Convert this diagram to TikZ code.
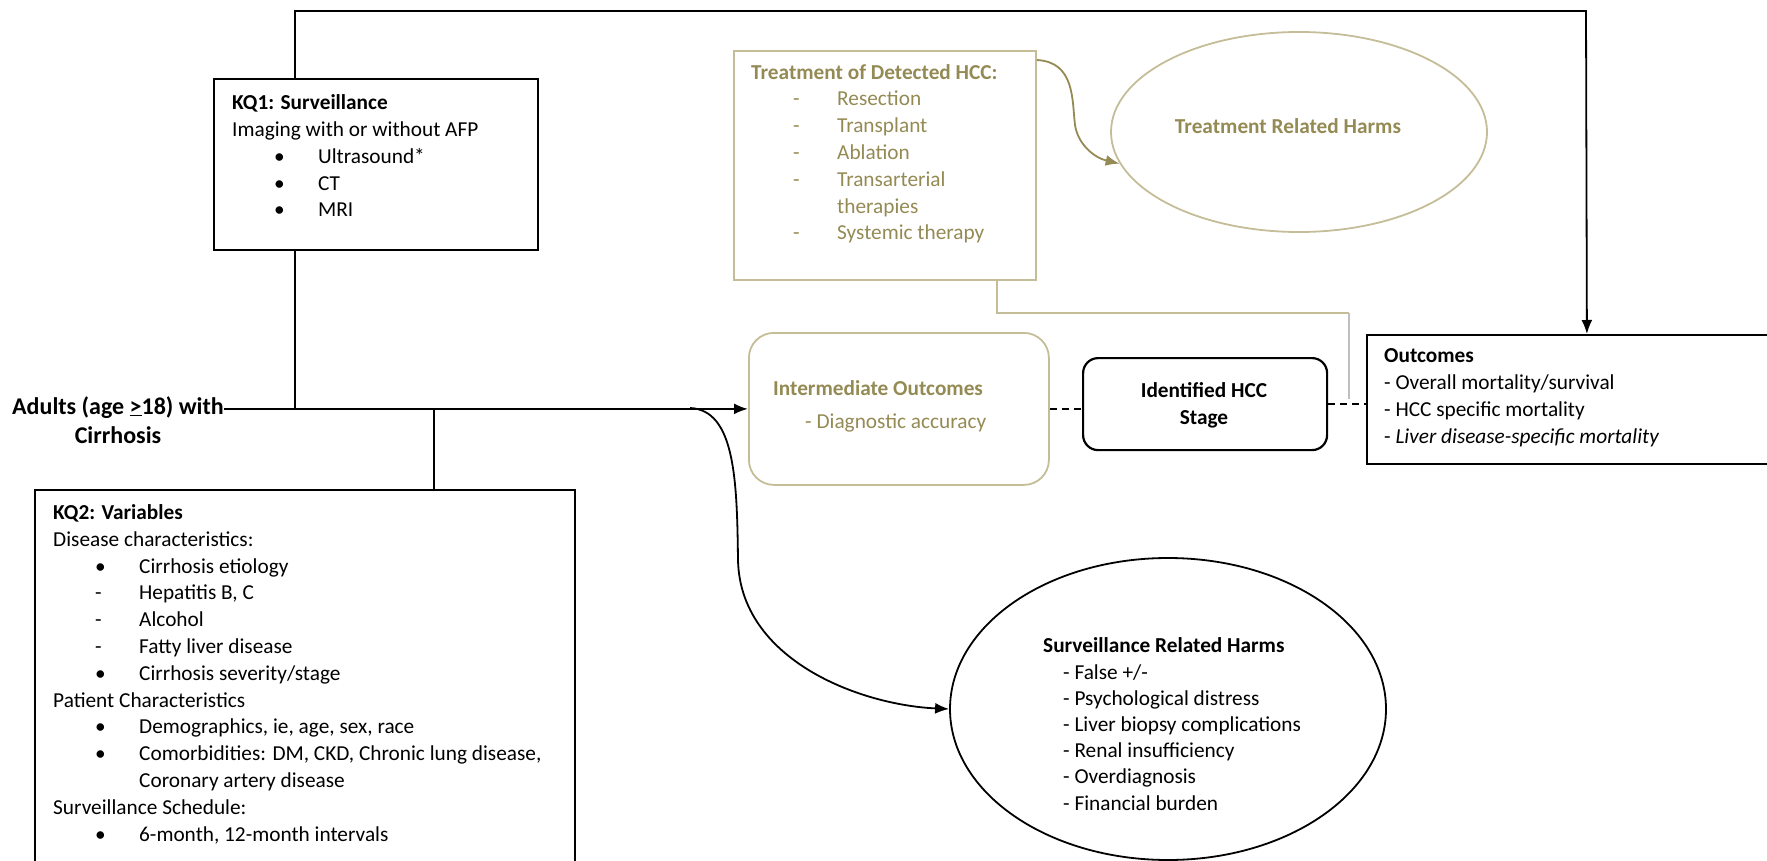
\documentclass[tikz,border=0pt]{standalone}
\usepackage{fontspec}
\setmainfont{Carlito}
\usetikzlibrary{shapes.geometric,arrows.meta,positioning}
\definecolor{tantext}{RGB}{148,138,84}
\definecolor{tanline}{RGB}{196,189,151}
\definecolor{greyline}{RGB}{191,191,191}
\tikzset{every node/.style={align=left, inner sep=0pt, font=\fontsize{21.3}{26.8}\selectfont}, >={Latex[length=14pt,width=11pt]}}
\newcommand{\listline}[2]{\hspace*{42pt}\makebox[44pt][l]{#1}#2}

\begin{document}
\begin{tikzpicture}[x=1pt, y=-1pt,
    box/.style={draw, line width=1.8pt, anchor=north west},
    tanbox/.style={draw=tanline, line width=1.8pt, anchor=north west},
    oval/.style={ellipse, draw, line width=1.8pt},
    dashline/.style={line width=1.8pt, dash pattern=on 7pt off 5pt}]
\useasboundingbox (0,0) rectangle (1767,861);
\clip (0,0) rectangle (1767,861);

% boxes and ovals
\node[box, minimum width=324pt, minimum height=171pt] (kqone) at (213,78) {};
\node[box, minimum width=540pt, minimum height=420pt] (kqtwo) at (34,489) {};
\node[tanbox, minimum width=302pt, minimum height=229pt] (treat) at (733,50) {};
\node[tanbox, rounded corners=25pt, minimum width=300pt, minimum height=152pt] (inter) at (748,332) {};
\node[box, rounded corners=15pt, line width=2.2pt, minimum width=244pt, minimum height=92pt] (idhcc) at (1082,357) {};
\node[box, minimum width=440pt, minimum height=129pt] (outcomes) at (1366,334) {};
\node[oval, draw=tanline, minimum width=376pt, minimum height=200pt] (trharms) at (1299,132) {};
\node[oval, minimum width=436pt, minimum height=302pt] (survharms) at (1168,709) {};

% texts (anchored at the baseline of their last line)
\node[anchor=base, align=center, font=\fontsize{24}{29}\selectfont\bfseries] (adults) at (118,443) {Adults (age \underline{>}18) with\\Cirrhosis};
\node[anchor=base west] (kqonetext) at (232,217) {\textbf{KQ1: Surveillance}\\Imaging with or without AFP\\
    \listline{\textbullet}{Ultrasound*}\\\listline{\textbullet}{CT}\\\listline{\textbullet}{MRI}};
\node[anchor=base west] (kqtwotext) at (53,841) {\textbf{KQ2: Variables}\\Disease characteristics:\\
    \listline{\textbullet}{Cirrhosis etiology}\\\listline{-}{Hepatitis B, C}\\\listline{-}{Alcohol}\\
    \listline{-}{Fatty liver disease}\\\listline{\textbullet}{Cirrhosis severity/stage}\\Patient Characteristics\\
    \listline{\textbullet}{Demographics, ie, age, sex, race}\\
    \listline{\textbullet}{Comorbidities: DM, CKD, Chronic lung disease,}\\\listline{}{Coronary artery disease}\\
    Surveillance Schedule:\\\listline{\textbullet}{6-month, 12-month intervals}};
\node[anchor=base west, text=tantext] (treattext) at (751,240) {\textbf{Treatment of Detected HCC:}\\
    \listline{-}{Resection}\\\listline{-}{Transplant}\\\listline{-}{Ablation}\\\listline{-}{Transarterial}\\
    \listline{}{therapies}\\\listline{-}{Systemic therapy}};
\node[anchor=base, text=tantext] (trtext) at (1288,134) {\textbf{Treatment Related Harms}};
\node[anchor=base west, text=tantext] (intertext) at (773,428) {\textbf{Intermediate Outcomes}\\[6pt]\hspace*{32pt}- Diagnostic accuracy};
\node[anchor=base, align=center] (idtext) at (1204,424) {\textbf{Identified HCC}\\\textbf{Stage}};
\node[anchor=base west] (outtext) at (1384,443) {\textbf{Outcomes}\\- Overall mortality/survival\\
    - HCC specific mortality\\- \textit{Liver disease-specific mortality}};
\node[anchor=base west, font=\fontsize{21.3}{26.2}\selectfont] (survtext) at (1043,810) {\textbf{Surveillance Related Harms}\\\hspace*{20pt}- False +/-\\
    \hspace*{20pt}- Psychological distress\\\hspace*{20pt}- Liver biopsy complications\\
    \hspace*{20pt}- Renal insufficiency\\\hspace*{20pt}- Overdiagnosis\\\hspace*{20pt}- Financial burden};

% connectors
\coordinate (kqtap) at (295,408);
\coordinate (vartap) at (434,408);
\coordinate (harmtap) at (690,408);
\coordinate (loopleft) at (295,11);
\coordinate (loopright) at (1586,11);
\coordinate (trbend) at (997,313);
\coordinate (trjoin) at (1349,313);
\draw[line width=2.2pt, ->] (adults.east |- inter.west) -- (inter.west);
\draw[line width=1.8pt] (kqone.south -| kqtap) -- (kqtap);
\draw[line width=1.8pt, ->] (kqone.north -| loopleft) -- (loopleft) -- (loopright) -- (outcomes.north);
\draw[line width=1.8pt] (vartap) -- (kqtwo.north -| vartap);
\draw[line width=1.8pt, ->] (harmtap) .. controls (735,410) and (737,480) .. (738,560)
    .. controls (740,660) and (860,705) .. (survharms.west);
\draw[dashline] (inter.east) -- (inter.east -| idhcc.west);
\draw[dashline] (idhcc.east) -- (idhcc.east -| outcomes.west);
\draw[tanline, line width=1.4pt] (treat.south -| trbend) -- (trbend) -- (trjoin);
\draw[greyline, line width=1.4pt] (trjoin) -- (trjoin |- outcomes.west);
\draw[tantext, line width=1.8pt, ->] ([yshift=-10pt]treat.north east) .. controls (1075,62) and (1072,100) .. (1075,125)
    .. controls (1078,145) and (1095,158) .. (trharms.190);
\end{tikzpicture}
\end{document}
